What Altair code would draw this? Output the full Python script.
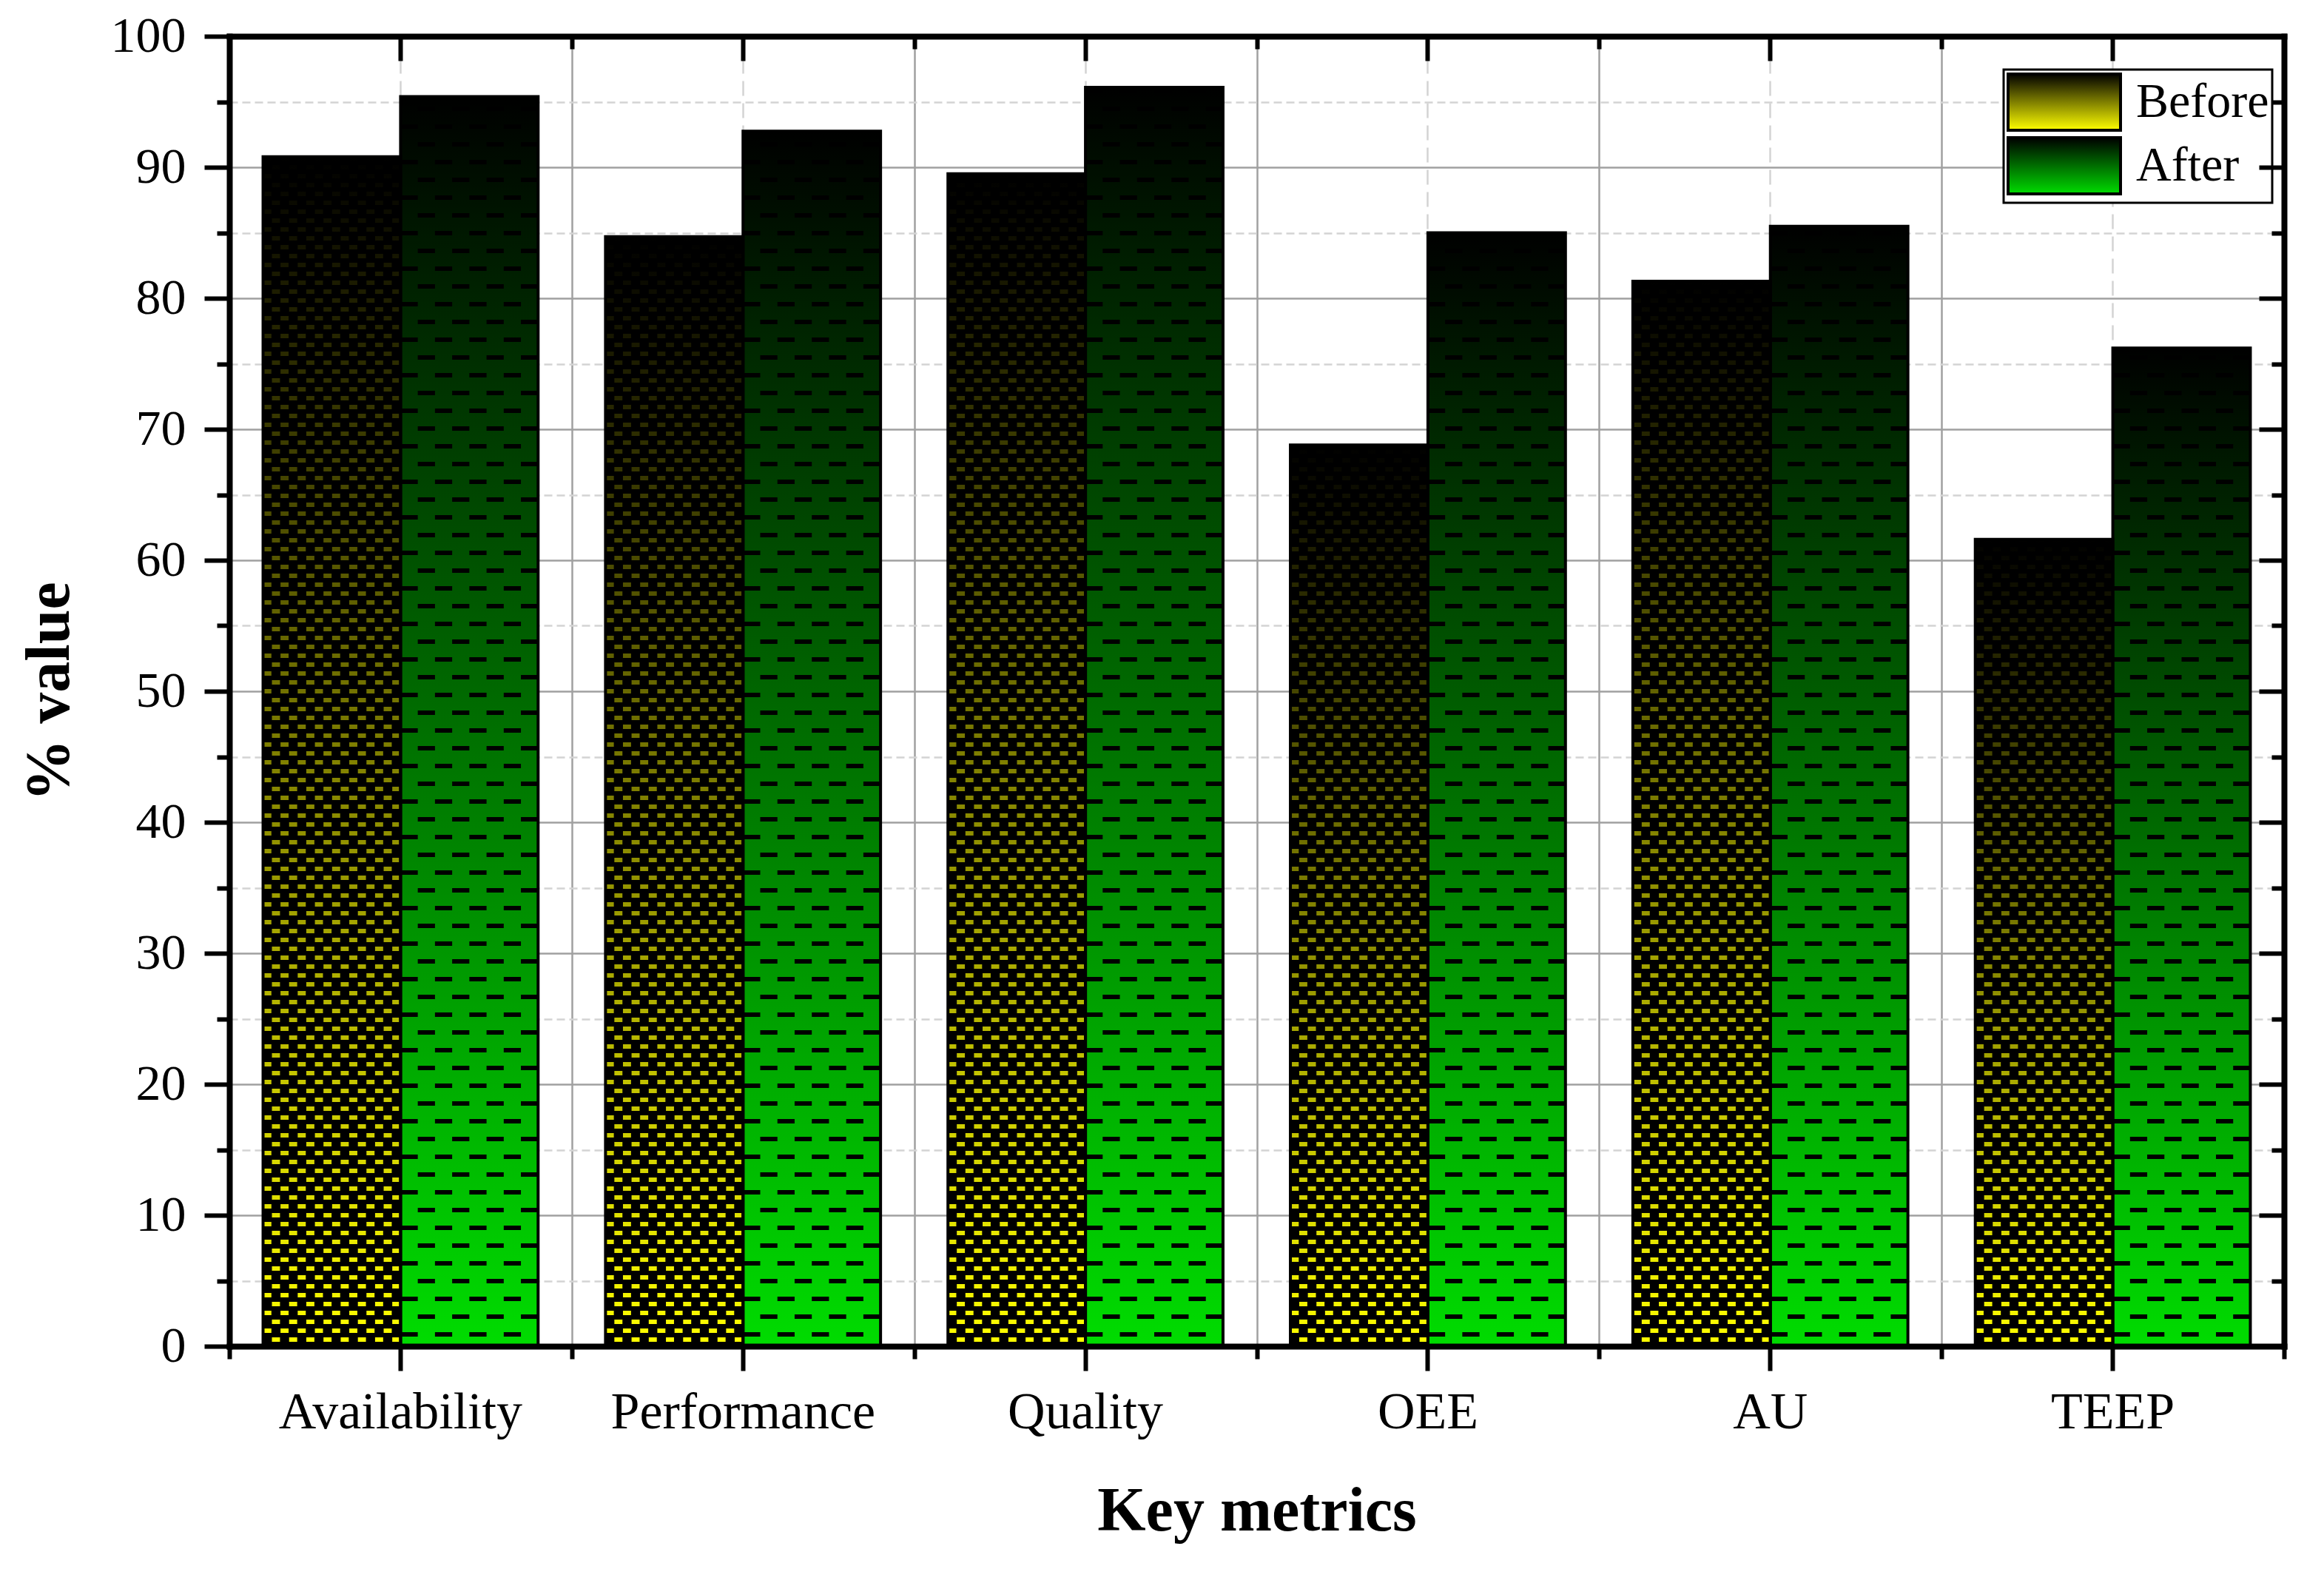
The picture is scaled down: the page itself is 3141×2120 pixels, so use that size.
import math
import altair as alt
import pandas as pd

metrics = ["Availability", "Performance", "Quality", "OEE", "AU", "TEEP"]
before = [90.8, 84.7, 89.5, 68.8, 81.3, 61.6]
after = [95.4, 92.75, 96.1, 85.0, 85.5, 76.2]
series = ["Before", "After"]
y_major = list(range(0, 101, 10))
y_minor = list(range(5, 100, 10))

df = pd.DataFrame({
    "metric": metrics * 2,
    "series": ["Before"] * len(metrics) + ["After"] * len(metrics),
    "value": before + after,
})

FONT = "Liberation Serif"
W, H = 2777, 1770
PO = 0.245  # outer padding of the bar pair inside each category, in bar units

grad_before = ("{gradient: 'linear', x1: 0, y1: 0, x2: 0, y2: 1, "
               "stops: [{offset: 0, color: '#000000'}, {offset: 1, color: '#ffff00'}]}")
grad_after = ("{gradient: 'linear', x1: 0, y1: 0, x2: 0, y2: 1, "
              "stops: [{offset: 0, color: '#000000'}, {offset: 1, color: '#00dc00'}]}")

xscale = alt.Scale(domain=metrics, paddingInner=0, paddingOuter=0)
yscale = alt.Scale(domain=[0, 100], nice=False, zero=True)

BLANK = dict(title=None, labels=False, ticks=False, domain=False, grid=False)


def xaxis(**kw):
    d = dict(BLANK)
    d.update(kw)
    return alt.Axis(**d)


# ---- axes ----
ax_x_grid_bound = xaxis(orient="bottom", grid=True, tickBand="extent", gridColor="#a0a0a0",
                        gridWidth=2.5, zindex=0)
ax_x_grid_center = xaxis(orient="bottom", grid=True, tickBand="center", gridColor="#d3d3d3",
                         gridWidth=2.5, gridDash=[20, 10], zindex=0)
ax_x_bottom = xaxis(orient="bottom", labels=True, ticks=True, domain=True, tickBand="center",
                    tickSize=33, tickWidth=6, tickColor="black", domainWidth=8,
                    domainColor="black", domainCap="square",
                    labelFont=FONT, labelFontSize=70, labelColor="black", labelAngle=0,
                    labelPadding=22, labelOverlap=False, labelLimit=0,
                    title="Key metrics", titleFont=FONT, titleFontSize=84,
                    titleFontWeight="bold", titleColor="black", titleX=W / 2, titleY=248,
                    titleAlign="center", titleBaseline="alphabetic", zindex=1)
ax_x_bottom_minor = xaxis(orient="bottom", ticks=True, tickBand="extent", tickSize=17,
                          tickWidth=6, tickColor="black", zindex=1)
ax_x_top = xaxis(orient="bottom", offset=-H, ticks=True, domain=True, tickBand="center",
                 tickSize=33, tickWidth=6, tickColor="black", domainWidth=8,
                 domainColor="black", domainCap="square", zindex=1)
ax_x_top_minor = xaxis(orient="bottom", offset=-H, ticks=True, tickBand="extent", tickSize=17,
                       tickWidth=6, tickColor="black", zindex=1)

ax_y_grid_major = xaxis(orient="left", values=y_major, grid=True, gridColor="#a0a0a0",
                        gridWidth=2.5, zindex=0)
ax_y_grid_minor = xaxis(orient="left", values=y_minor, grid=True, gridColor="#d3d3d3",
                        gridWidth=2.5, gridDash=[11, 6], zindex=0)
ax_y_left = xaxis(orient="left", values=y_major, labels=True, ticks=True, domain=True,
                  tickSize=34, tickWidth=6, tickColor="black", domainWidth=8,
                  domainColor="black", domainCap="square",
                  labelFont=FONT, labelFontSize=68, labelColor="black", labelPadding=25,
                  labelOverlap=False, labelBaseline="middle", labelLimit=0,
                  title="% value", titleFont=FONT, titleFontSize=84, titleFontWeight="bold",
                  titleColor="black", titleX=-243, titleY=H / 2, titleAngle=270,
                  titleAlign="center", titleBaseline="middle", zindex=1)
ax_y_left_minor = xaxis(orient="left", values=y_minor, ticks=True, tickSize=17, tickWidth=6,
                        tickColor="black", zindex=1)
ax_y_right = xaxis(orient="left", offset=-W, values=y_major, ticks=True, domain=True,
                   tickSize=34, tickWidth=6, tickColor="black", domainWidth=8,
                   domainColor="black", domainCap="square", zindex=1)
ax_y_right_minor = xaxis(orient="left", offset=-W, values=y_minor, ticks=True, tickSize=17,
                         tickWidth=6, tickColor="black", zindex=1)

base = alt.Chart(df)

bars = base.mark_bar(strokeWidth=0).encode(
    x=alt.X("metric:N", sort=metrics, scale=xscale, axis=ax_x_grid_bound),
    xOffset=alt.XOffset("series:N", sort=series,
                        scale=alt.Scale(domain=series, paddingInner=0, paddingOuter=PO)),
    y=alt.Y("value:Q", scale=yscale, axis=ax_y_grid_major),
    color=alt.Color(
        "series:N", sort=series,
        scale=alt.Scale(domain=series, range=[{"expr": grad_before}, {"expr": grad_after}]),
        legend=alt.Legend(
            title=None, orient="none", legendX=2398, legendY=45,
            symbolType="M-2,-1H2V1H-2Z", symbolSize=5776, symbolOffset=38,
            symbolStrokeColor="black", symbolStrokeWidth=4,
            labelFont=FONT, labelFontSize=66, labelColor="black", labelOffset=57,
            labelLimit=0,
            fillColor="white", strokeColor="black", padding=4, rowPadding=-8,
        ),
    ),
)

outline = base.mark_bar(fill="transparent", stroke="black", strokeWidth=4).encode(
    x=alt.X("metric:N", sort=metrics, scale=xscale, axis=ax_x_grid_center),
    xOffset=alt.XOffset("series:N", sort=series,
                        scale=alt.Scale(domain=series, paddingInner=0, paddingOuter=PO)),
    y=alt.Y("value:Q", scale=yscale, axis=ax_y_grid_minor),
)


def pattern(name, ncols, parity, width, dash, dash_offset, shift, ax_x, ax_y):
    po_total = PO * ncols
    k = int(math.floor(po_total))
    rem = po_total - k
    nslots = 2 * ncols + 2 * k
    return base.transform_filter(
        alt.datum.series == name
    ).transform_calculate(
        cols=f"sequence(0, {ncols})"
    ).transform_flatten(
        ["cols"]
    ).transform_filter(
        f"datum.cols % 2 == {parity}"
    ).transform_calculate(
        slot=f"datum.cols + {shift + k}", zero="0"
    ).mark_rule(
        color="black", strokeWidth=width, strokeDash=dash, strokeDashOffset=dash_offset
    ).encode(
        x=alt.X("metric:N", sort=metrics, scale=xscale, axis=ax_x),
        xOffset=alt.XOffset("slot:O", scale=alt.Scale(domain=list(range(nslots)), paddingInner=0,
                                                       paddingOuter=rem)),
        y=alt.Y("zero:Q", scale=yscale, axis=ax_y),
        y2="value:Q",
    )


step = W / len(metrics)
w_before = step / (32 + 2 * PO * 16)
w_after = step / (16 + 2 * PO * 8)

pb0 = pattern("Before", 16, 0, w_before + 0.7, [18, 6], 0, 0, ax_x_bottom, ax_y_left)
pb1 = pattern("Before", 16, 1, w_before + 0.7, [18, 6], 12, 0, ax_x_bottom_minor, ax_y_left_minor)
pa0 = pattern("After", 8, 0, w_after, [6, 42], 35, 8, ax_x_top, ax_y_right)
pa1 = pattern("After", 8, 1, w_after, [6, 42], 11, 8, ax_x_top_minor, ax_y_right_minor)

chart = alt.layer(bars, pb0, pb1, pa0, pa1, outline).resolve_scale(
    xOffset="independent"
).resolve_axis(
    x="independent", y="independent"
).properties(
    width=W, height=H, padding={"left": 17, "top": 7, "right": 5, "bottom": 5},
    background="white",
).configure_view(
    stroke=None
).configure_legend(
    strokeWidth=3
)

chart.save("out.html", embed_options={"renderer": "svg", "actions": False})
